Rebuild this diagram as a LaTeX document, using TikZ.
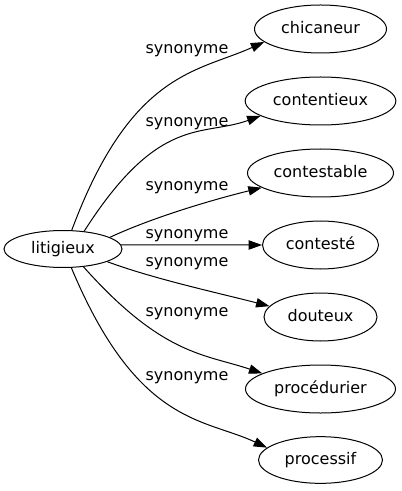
\documentclass[tikz,border=0pt]{standalone}
\usepackage{fontspec}
\setmainfont{DejaVu Sans}
\usetikzlibrary{arrows.meta,shapes.geometric}
\begin{document}
\begin{tikzpicture}[x=0.75pt,y=-0.75pt,
  every node/.style={font=\fontsize{12}{14}\selectfont, text height=8pt, text depth=1.4pt, inner sep=0pt},
  word/.style={draw, ellipse, line width=0.75pt, minimum height=36pt},
  lbl/.style={},
  syn/.style={draw, line width=0.75pt, -{Triangle[length=10pt,width=7pt]}}]
\useasboundingbox (0,0) rectangle (401,491);
% nodes
\node[word, minimum width=88.5pt, minimum height=27.75pt] (lit) at (63,249) {litigieux};
\node[word, minimum width=99pt]    (n1) at (320.5,29)  {chicaneur};
\node[word, minimum width=113pt]   (n2) at (320.5,101) {contentieux};
\node[word, minimum width=109.5pt] (n3) at (320.5,173) {contestable};
\node[word, minimum width=87pt]    (n4) at (320.5,245) {contesté};
\node[word, minimum width=84.75pt] (n5) at (320.5,317) {douteux};
\node[word, minimum width=112.5pt] (n6) at (320.5,389) {procédurier};
\node[word, minimum width=93pt, minimum height=35pt] (n7) at (320.5,460) {processif};
% labels
\node[lbl] (l1) at (187,49.3)  {synonyme};
\node[lbl] (l2) at (187,121.7) {synonyme};
\node[lbl] (l3) at (187,185.7) {synonyme};
\node[lbl] (l4) at (187,234.3) {synonyme};
\node[lbl] (l5) at (187,262)   {synonyme};
\node[lbl] (l6) at (187,311.7) {synonyme};
\node[lbl] (l7) at (187,375.7) {synonyme};
% edges
\draw[syn] (lit.65) .. controls (131,71) and (198,72) .. (n1.193.5);
\draw[syn] (lit.40) .. controls (159,114) and (202,137) .. (n2.194.5);
\draw[syn] (lit.14) .. controls (152.5,217.5) and (211.5,200) .. (n3.194.2);
\draw[syn] (lit.4) -- (n4.west);
\draw[syn] (lit.-16) .. controls (154,279) and (218.5,293) .. (n5.168.1);
\draw[syn] (lit.-41) .. controls (163,356) and (205,354) .. (n6.165.4);
\draw[syn] (lit.-66) .. controls (137.6,426) and (204,418) .. (n7.167.4);
\end{tikzpicture}
\end{document}
